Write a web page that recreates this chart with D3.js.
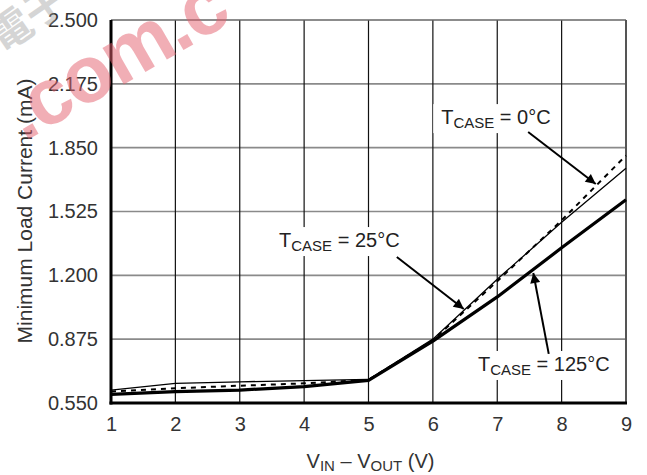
<!DOCTYPE html>
<html>
<head>
<meta charset="utf-8">
<script src="https://cdn.jsdelivr.net/npm/d3@7"></script>
<style>
  body { margin: 0; background: #fff; }
  svg { display: block; }
</style>
</head>
<body>
<script>
// data
const vdiff = [1, 2, 3, 4, 5, 6, 7, 8, 9];
const curve0C = [0.608, 0.625, 0.638, 0.650, 0.668, 0.870, 1.170, 1.480, 1.810];
const curve25C = [0.616, 0.650, 0.658, 0.664, 0.670, 0.875, 1.180, 1.470, 1.745];
const curve125C = [0.594, 0.608, 0.616, 0.633, 0.665, 0.865, 1.090, 1.340, 1.585];
const yTicks = [0.550, 0.875, 1.200, 1.525, 1.850, 2.175, 2.500];
const xTicks = [1, 2, 3, 4, 5, 6, 7, 8, 9];

// label text, anchor and arrow ends in data units
const noteTemps = ['0°C', '25°C', '125°C'];
const noteAt = [[6.13, 1.97], [3.61, 1.344], [6.70, 0.713]];
const arrowFrom = [[7.48, 1.93], [5.44, 1.293], [7.80, 0.80]];
const arrowTo = [[8.53, 1.665], [6.48, 1.029], [7.56, 1.212]];

const W = 647, H = 475;
const margin = { top: 20, right: 21, bottom: 72, left: 111 };
const width = W - margin.left - margin.right;
const height = H - margin.top - margin.bottom;
const font = '"Liberation Sans", Arial, Helvetica, sans-serif';

const svg = d3.select('body').append('svg')
    .attr('width', W)
    .attr('height', H);

svg.append('rect').attr('width', W).attr('height', H).attr('fill', 'white');

const g = svg.append('g')
    .attr('transform', `translate(${margin.left},${margin.top})`);

const x = d3.scaleLinear().domain([1, 9]).range([0, width]);
const y = d3.scaleLinear().domain([0.55, 2.5]).range([height, 0]);

// grid
g.append('g')
    .selectAll('line')
    .data(yTicks.slice(1, -1))
    .join('line')
    .attr('x1', 0).attr('x2', width)
    .attr('y1', d => y(d)).attr('y2', d => y(d))
    .attr('stroke', '#8a8a8a')
    .attr('stroke-width', 1.6);

g.append('g')
    .selectAll('line')
    .data(xTicks.slice(1, -1))
    .join('line')
    .attr('x1', d => x(d)).attr('x2', d => x(d))
    .attr('y1', 0).attr('y2', height)
    .attr('stroke', '#111')
    .attr('stroke-width', 1.2);

// frame
g.append('line').attr('x1', 0).attr('x2', width).attr('y1', 0).attr('y2', 0)
    .attr('stroke', '#666').attr('stroke-width', 1.6);
g.append('line').attr('x1', width).attr('x2', width).attr('y1', 0).attr('y2', height)
    .attr('stroke', '#555').attr('stroke-width', 2);

// annotation labels with white boxes
const notes = g.append('g')
    .attr('font-family', font)
    .attr('fill', '#222');

noteTemps.forEach((t, i) => {
    const [nx, ny] = noteAt[i];
    const lab = notes.append('text')
        .attr('x', x(nx))
        .attr('y', y(ny))
        .attr('font-size', 20);
    lab.append('tspan').text('T');
    lab.append('tspan').attr('font-size', 15).attr('dy', 4).text('CASE');
    lab.append('tspan').attr('dy', -4).text(' = ' + t);
    const bb = lab.node().getBBox();
    notes.insert('rect', 'text')
        .attr('x', bb.x - 8)
        .attr('y', bb.y - 2)
        .attr('width', bb.width + 14)
        .attr('height', bb.height + 4)
        .attr('fill', 'white');
});

// curves
const line = d3.line()
    .x((d, i) => x(vdiff[i]))
    .y(d => y(d));

g.append('path').datum(curve25C)
    .attr('fill', 'none').attr('stroke', '#000')
    .attr('stroke-width', 1.3)
    .attr('d', line);

g.append('path').datum(curve0C)
    .attr('fill', 'none').attr('stroke', '#000')
    .attr('stroke-width', 2)
    .attr('stroke-dasharray', '5,5')
    .attr('d', line);

g.append('path').datum(curve125C)
    .attr('fill', 'none').attr('stroke', '#000')
    .attr('stroke-width', 3.2)
    .attr('stroke-linejoin', 'round')
    .attr('d', line);

// arrows
svg.append('defs').append('marker')
    .attr('id', 'head')
    .attr('viewBox', '0 0 10 10')
    .attr('refX', 10).attr('refY', 5)
    .attr('markerWidth', 14).attr('markerHeight', 10)
    .attr('markerUnits', 'userSpaceOnUse')
    .attr('orient', 'auto')
    .append('path')
    .attr('d', 'M0,0 L10,5 L0,10 Z')
    .attr('fill', '#000');

g.append('g')
    .selectAll('line')
    .data(arrowFrom)
    .join('line')
    .attr('x1', d => x(d[0])).attr('y1', d => y(d[1]))
    .attr('x2', (d, i) => x(arrowTo[i][0])).attr('y2', (d, i) => y(arrowTo[i][1]))
    .attr('stroke', '#000')
    .attr('stroke-width', 2)
    .attr('marker-end', 'url(#head)');

// axes
g.append('g')
    .attr('transform', `translate(0,${height})`)
    .call(d3.axisBottom(x).tickValues(xTicks).tickSize(0).tickPadding(14).tickFormat(d3.format('d')))
    .call(a => a.select('.domain').remove())
    .call(a => a.selectAll('text').attr('font-size', 20).attr('font-family', font).attr('fill', '#333'));

g.append('g')
    .call(d3.axisLeft(y).tickValues(yTicks).tickSize(0).tickPadding(13).tickFormat(d3.format('.3f')))
    .call(a => a.select('.domain').remove())
    .call(a => a.selectAll('text').attr('font-size', 20).attr('font-family', font).attr('fill', '#333'));

g.append('line').attr('x1', 0).attr('x2', 0).attr('y1', 0).attr('y2', height + 1.5)
    .attr('stroke', '#000').attr('stroke-width', 3);
g.append('line').attr('x1', -1.5).attr('x2', width + 1).attr('y1', height).attr('y2', height)
    .attr('stroke', '#000').attr('stroke-width', 3);

// axis titles
g.append('text')
    .attr('transform', 'rotate(-90)')
    .attr('x', -191)
    .attr('y', -margin.left + 32)
    .attr('text-anchor', 'middle')
    .attr('font-family', font)
    .attr('font-size', 21)
    .attr('fill', '#333')
    .text('Minimum Load Current (mA)');

const xt = g.append('text')
    .attr('x', width / 2 + 2)
    .attr('y', height + 65)
    .attr('text-anchor', 'middle')
    .attr('font-family', font)
    .attr('font-size', 20)
    .attr('fill', '#333');
xt.append('tspan').text('V');
xt.append('tspan').attr('font-size', 15).attr('dy', 3).text('IN');
xt.append('tspan').attr('dy', -3).text(' \u2013 V');
xt.append('tspan').attr('font-size', 15).attr('dy', 3).text('OUT');
xt.append('tspan').attr('dy', -3).text(' (V)');

// watermark, laid over the chart as in the scan
svg.append('text')
    .attr('transform', 'translate(2,54) rotate(-35)')
    .attr('font-family', '"Noto Sans CJK SC", sans-serif')
    .attr('font-size', 42)
    .attr('font-weight', 'bold')
    .attr('fill', '#999')
    .attr('opacity', 0.4)
    .text('電子');

svg.append('text')
    .attr('transform', 'translate(24,142) rotate(-30)')
    .attr('font-family', font)
    .attr('font-size', 80)
    .attr('font-weight', 'bold')
    .attr('letter-spacing', -2)
    .attr('fill', '#e5606e')
    .attr('opacity', 0.5)
    .text('.com.c');
</script>
</body>
</html>
